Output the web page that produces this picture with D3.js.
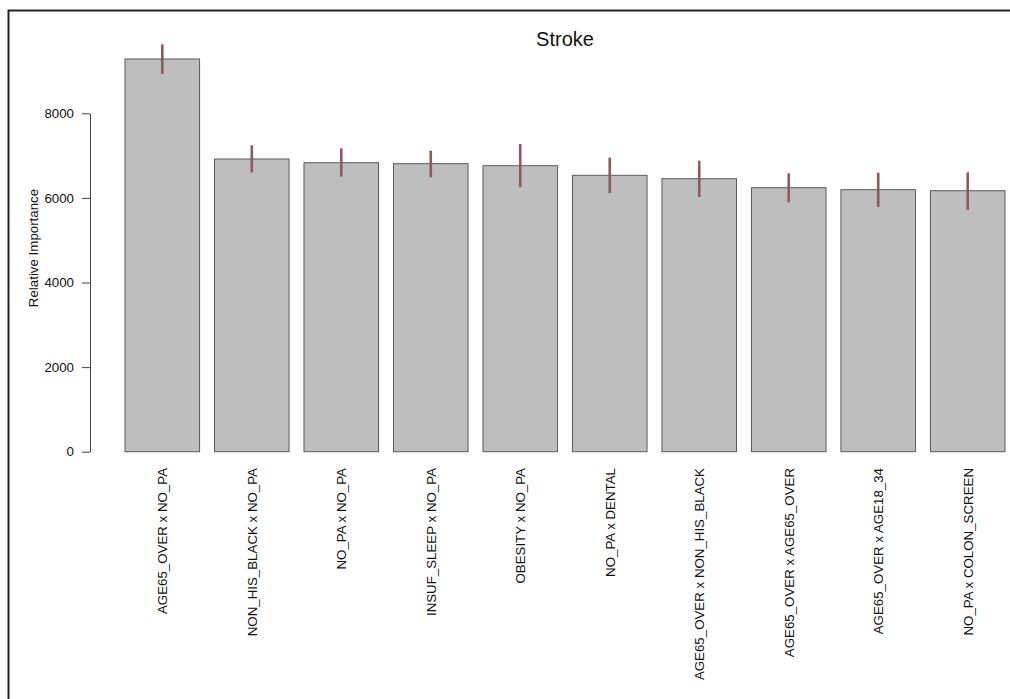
<!DOCTYPE html>
<html>
<head>
<meta charset="utf-8">
<script src="https://cdn.jsdelivr.net/npm/d3@7"></script>
<style>
  body { margin: 0; background: #fff; }
  text { font-family: "Liberation Sans", Arial, sans-serif; fill: #111; }
</style>
</head>
<body>
<div id="chart"></div>
<script>
// values
const categories = [
  "AGE65_OVER x NO_PA", "NON_HIS_BLACK x NO_PA", "NO_PA x NO_PA", "INSUF_SLEEP x NO_PA",
  "OBESITY x NO_PA", "NO_PA x DENTAL", "AGE65_OVER x NON_HIS_BLACK", "AGE65_OVER x AGE65_OVER",
  "AGE65_OVER x AGE18_34", "NO_PA x COLON_SCREEN"
];
const importance = [9284, 6920, 6832, 6809, 6761, 6534, 6454, 6241, 6194, 6170];
const lower = [8929, 6605, 6501, 6487, 6250, 6116, 6021, 5896, 5785, 5714];
const upper = [9631, 7243, 7173, 7116, 7274, 6950, 6879, 6582, 6596, 6605];
const yTicks = [0, 2000, 4000, 6000, 8000];

const W = 1010, H = 699;

const data = categories.map((c, i) => ({ name: c, value: importance[i], lo: lower[i], hi: upper[i] }));

const svg = d3.select("#chart")
    .append("svg")
    .attr("width", W)
    .attr("height", H);

// frame (only top and left visible in the crop)
svg.append("path")
    .attr("d", `M8.5,${H} L8.5,10.5 L${W},10.5`)
    .attr("fill", "none")
    .attr("stroke", "#222")
    .attr("stroke-width", 2);

const x = d3.scaleBand()
    .domain(categories)
    .range([125, 1005])
    .paddingInner(1 / 6)
    .paddingOuter(0);

const y = d3.scaleLinear()
    .domain([0, 8000])
    .range([451.7, 113.3]);

// bars
svg.selectAll(".bar")
    .data(data)
    .enter()
    .append("rect")
    .attr("class", "bar")
    .attr("x", d => x(d.name))
    .attr("y", d => y(d.value))
    .attr("width", x.bandwidth())
    .attr("height", d => y(0) - y(d.value))
    .attr("fill", "#bebebf")
    .attr("stroke", "#5a5a5a")
    .attr("stroke-width", 1);

// error segments
svg.selectAll(".err")
    .data(data)
    .enter()
    .append("line")
    .attr("class", "err")
    .attr("x1", d => x(d.name) + x.bandwidth() / 2)
    .attr("x2", d => x(d.name) + x.bandwidth() / 2)
    .attr("y1", d => y(d.hi))
    .attr("y2", d => y(d.lo))
    .attr("stroke", "#8e5a5c")
    .attr("stroke-width", 2.6);

// y axis, R style
const yAxis = svg.append("g")
    .attr("transform", "translate(90,0)")
    .call(d3.axisLeft(y).tickValues(yTicks).tickSize(8).tickPadding(8).tickSizeOuter(0).tickFormat(d3.format("d")));
yAxis.select(".domain").attr("stroke", "#444");
yAxis.selectAll(".tick line").attr("stroke", "#444");
yAxis.selectAll(".tick text")
    .style("font-size", "13.3px")
    .style("font-family", "Liberation Sans, Arial, sans-serif")
    .attr("fill", "#111");

// y label
svg.append("text")
    .attr("transform", `translate(38,248) rotate(-90)`)
    .attr("text-anchor", "middle")
    .style("font-size", "13.3px")
    .text("Relative Importance");

// category labels, rotated
svg.selectAll(".label")
    .data(data)
    .enter()
    .append("text")
    .attr("class", "label")
    .attr("transform", d => `translate(${x(d.name) + x.bandwidth() / 2 + 5},468) rotate(-90)`)
    .attr("text-anchor", "end")
    .style("font-size", "13.3px")
    .text(d => d.name);

// title
svg.append("text")
    .attr("x", 565)
    .attr("y", 46)
    .attr("text-anchor", "middle")
    .style("font-size", "20px")
    .text("Stroke");
</script>
</body>
</html>
